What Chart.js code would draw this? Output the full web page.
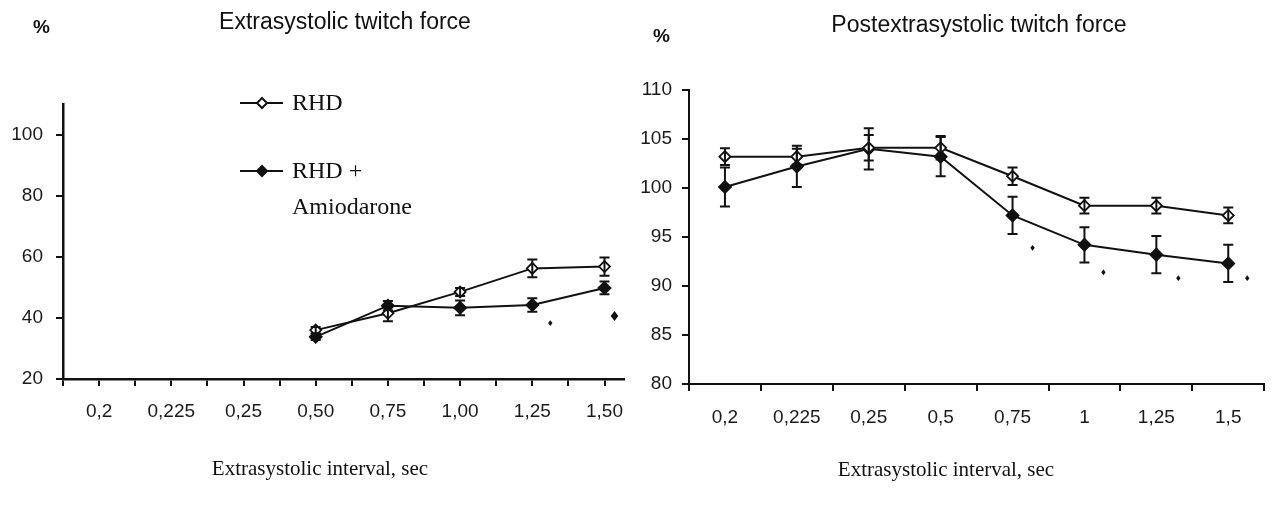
<!DOCTYPE html>
<html>
<head>
<meta charset="utf-8">
<script src="https://cdn.jsdelivr.net/npm/chart.js@4.4.1/dist/chart.umd.min.js"></script>
<style>
  body { margin: 0; background: #fff; width: 1272px; height: 514px; position: relative; overflow: hidden; }
  .box { position: absolute; top: 0; height: 514px; }
  .txt { position: absolute; color: #111; white-space: nowrap; }
  .sans { font-family: "Liberation Sans", Arial, sans-serif; }
  .serif { font-family: "Liberation Serif", "Times New Roman", serif; }
</style>
</head>
<body>
<div class="box" style="left:0;width:640px"><canvas id="left"></canvas></div>
<div class="box" style="left:640px;width:632px"><canvas id="right"></canvas></div>

<div class="txt sans" style="left:33px;top:16px;font-size:19px;font-weight:bold">%</div>
<div class="txt sans" style="left:145px;top:8px;width:400px;text-align:center;font-size:23px">Extrasystolic twitch force</div>
<div class="txt sans" style="left:653px;top:25px;font-size:19px;font-weight:bold">%</div>
<div class="txt sans" style="left:779px;top:11px;width:400px;text-align:center;font-size:23px">Postextrasystolic twitch force</div>
<div class="txt serif" style="left:120px;top:456px;width:400px;text-align:center;font-size:21px">Extrasystolic interval, sec</div>
<div class="txt serif" style="left:746px;top:457px;width:400px;text-align:center;font-size:21px">Extrasystolic interval, sec</div>

<script>
// categories (extrasystolic interval, sec)
const catsLeft = ['0,2', '0,225', '0,25', '0,50', '0,75', '1,00', '1,25', '1,50'];
const catsRight = ['0,2', '0,225', '0,25', '0,5', '0,75', '1', '1,25', '1,5'];

// extrasystolic twitch force, %
const rhdLeft = [null, null, null, 36, 41.5, 48.5, 56.2, 56.8];
const amioLeft = [null, null, null, 33.8, 44, 43.3, 44.2, 49.8];
const rhdLeftErr = [null, null, null, 1, 2.6, 1.3, 2.9, 3];
const amioLeftErr = [null, null, null, 1, 1.5, 2.4, 2.2, 2.1];
const sigLeft = [null, null, null, null, null, null, 38.3, 40.6];

// postextrasystolic twitch force, %
const rhdRight = [103.2, 103.2, 104.1, 104.1, 101.2, 98.2, 98.2, 97.2];
const amioRight = [100.1, 102.2, 104.0, 103.2, 97.2, 94.2, 93.2, 92.3];
const rhdRightErr = [0.85, 0.8, 1.3, 1.2, 0.9, 0.8, 0.8, 0.8];
const amioRightErr = [2, 2.1, 2.1, 2, 1.9, 1.8, 1.9, 1.9];
const sigRight = [null, null, null, null, 93.9, 91.4, 90.8, 90.8];

const legendLabels = ['RHD', 'RHD +', 'Amiodarone'];

const INK = '#111';

// error bars with caps
const errorBars = {
    id: 'errorBars',
    afterDatasetsDraw(chart) {
        const ctx = chart.ctx;
        const yScale = chart.scales.y;
        ctx.save();
        ctx.strokeStyle = INK;
        ctx.lineWidth = 2;
        chart.data.datasets.forEach((ds, di) => {
            if (!ds.errors) return;
            const meta = chart.getDatasetMeta(di);
            meta.data.forEach((pt, i) => {
                const v = ds.rawValues[i];
                const e = ds.errors[i];
                if (v == null || e == null) return;
                const x = pt.x;
                const top = yScale.getPixelForValue(v + e);
                const bot = yScale.getPixelForValue(v - e);
                ctx.beginPath();
                ctx.moveTo(x, top); ctx.lineTo(x, bot);
                ctx.moveTo(x - 5, top); ctx.lineTo(x + 5, top);
                ctx.moveTo(x - 5, bot); ctx.lineTo(x + 5, bot);
                ctx.stroke();
            });
        });
        ctx.restore();
    }
};

// significance dots next to the amiodarone points
const sigMarks = {
    id: 'sigMarks',
    afterDatasetsDraw(chart, args, opts) {
        if (!opts.values) return;
        const ctx = chart.ctx;
        const meta = chart.getDatasetMeta(1);
        ctx.save();
        ctx.fillStyle = INK;
        opts.values.forEach((v, i) => {
            if (v == null) return;
            const x = meta.data[i].x + opts.dx[i];
            const y = chart.scales.y.getPixelForValue(v);
            const r = opts.size[i];
            ctx.beginPath();
            ctx.moveTo(x, y - r * 1.3); ctx.lineTo(x + r, y);
            ctx.lineTo(x, y + r * 1.3); ctx.lineTo(x - r, y);
            ctx.closePath();
            ctx.fill();
        });
        ctx.restore();
    }
};

// legend drawn inside the left plot
const innerLegend = {
    id: 'innerLegend',
    afterDraw(chart, args, opts) {
        if (!opts.show) return;
        const ctx = chart.ctx;
        ctx.save();
        ctx.strokeStyle = INK;
        ctx.fillStyle = INK;
        ctx.lineWidth = 2;
        ctx.font = '24px "Liberation Serif", "Times New Roman", serif';
        ctx.textBaseline = 'middle';
        const rows = [{ y: 103, open: true }, { y: 171, open: false }];
        rows.forEach((r) => {
            ctx.beginPath();
            ctx.moveTo(240, r.y); ctx.lineTo(283, r.y);
            ctx.stroke();
            ctx.beginPath();
            ctx.moveTo(262, r.y - 5); ctx.lineTo(267, r.y);
            ctx.lineTo(262, r.y + 5); ctx.lineTo(257, r.y);
            ctx.closePath();
            ctx.fillStyle = r.open ? '#fff' : INK;
            ctx.fill();
            ctx.stroke();
        });
        ctx.fillStyle = INK;
        ctx.fillText(legendLabels[0], 292, 104);
        ctx.fillText(legendLabels[1], 292, 172);
        ctx.fillText(legendLabels[2], 292, 208);
        ctx.restore();
    }
};

function seriesStyle(open) {
    return {
        borderColor: INK,
        borderWidth: 2,
        pointStyle: 'rectRot',
        pointRadius: open ? 5.5 : 6,
        pointBorderWidth: 1.8,
        pointBorderColor: INK,
        pointBackgroundColor: open ? '#fff' : INK,
        tension: 0,
        fill: false,
        spanGaps: false
    };
}

const tickFont = { family: '"Liberation Sans", Arial, sans-serif', size: 19 };

// left chart: linear x so ticks sit at every half category
const toXY = (arr) => arr.map((v, i) => ({ x: i, y: v }));

new Chart(document.getElementById('left'), {
    type: 'line',
    data: {
        datasets: [
            Object.assign({ label: 'RHD', data: toXY(rhdLeft), rawValues: rhdLeft, errors: rhdLeftErr }, seriesStyle(true)),
            Object.assign({ label: 'RHD + Amiodarone', data: toXY(amioLeft), rawValues: amioLeft, errors: amioLeftErr }, seriesStyle(false))
        ]
    },
    options: {
        responsive: true,
        maintainAspectRatio: false,
        animation: false,
        layout: { padding: { top: 104, right: 16, left: 0, bottom: 0 } },
        plugins: {
            legend: { display: false },
            tooltip: { enabled: false },
            innerLegend: { show: true },
            sigMarks: { values: sigLeft, dx: [0, 0, 0, 0, 0, 0, 18, 10], size: [0, 0, 0, 0, 0, 0, 2.2, 3.8] }
        },
        scales: {
            x: {
                type: 'linear',
                min: -0.5,
                max: 7.27,
                afterFit: (s) => { s.height = 135; },
                border: { display: true, color: INK, width: 2.5 },
                grid: { drawOnChartArea: false, drawTicks: true, tickLength: 7, color: INK, lineWidth: 2 },
                ticks: {
                    stepSize: 0.5,
                    includeBounds: false,
                    autoSkip: false,
                    maxRotation: 0,
                    padding: 14,
                    color: '#1a1a1a',
                    font: tickFont,
                    callback: (v) => Number.isInteger(v) && v >= 0 ? catsLeft[v] : ''
                }
            },
            y: {
                min: 20,
                max: 110,
                afterFit: (s) => { s.width = 63; },
                border: { display: true, color: INK, width: 2.5 },
                grid: { drawOnChartArea: false, drawTicks: true, tickLength: 7, color: INK, lineWidth: 2 },
                ticks: { stepSize: 20, includeBounds: false, padding: 13, color: '#1a1a1a', font: tickFont }
            }
        }
    },
    plugins: [errorBars, sigMarks, innerLegend]
});

new Chart(document.getElementById('right'), {
    type: 'line',
    data: {
        labels: catsRight,
        datasets: [
            Object.assign({ label: 'RHD', data: rhdRight, rawValues: rhdRight, errors: rhdRightErr }, seriesStyle(true)),
            Object.assign({ label: 'RHD + Amiodarone', data: amioRight, rawValues: amioRight, errors: amioRightErr }, seriesStyle(false))
        ]
    },
    options: {
        responsive: true,
        maintainAspectRatio: false,
        animation: false,
        layout: { padding: { top: 90, right: 5, left: 0, bottom: 0 } },
        plugins: {
            legend: { display: false },
            tooltip: { enabled: false },
            sigMarks: { values: sigRight, dx: [0, 0, 0, 0, 20, 19, 22, 19], size: [0, 0, 0, 0, 2.2, 2.2, 2.2, 2.2] }
        },
        scales: {
            x: {
                offset: true,
                afterFit: (s) => { s.height = 130; },
                border: { display: true, color: INK, width: 2 },
                grid: { offset: true, drawOnChartArea: false, drawTicks: true, tickLength: 7, color: INK, lineWidth: 2 },
                ticks: { autoSkip: false, maxRotation: 0, padding: 15, color: '#1a1a1a', font: tickFont }
            },
            y: {
                min: 80,
                max: 110,
                afterFit: (s) => { s.width = 49; },
                border: { display: true, color: INK, width: 2 },
                grid: { drawOnChartArea: false, drawTicks: true, tickLength: 7, color: INK, lineWidth: 2 },
                ticks: { stepSize: 5, padding: 10, color: '#1a1a1a', font: tickFont }
            }
        }
    },
    plugins: [errorBars, sigMarks]
});
</script>
</body>
</html>
